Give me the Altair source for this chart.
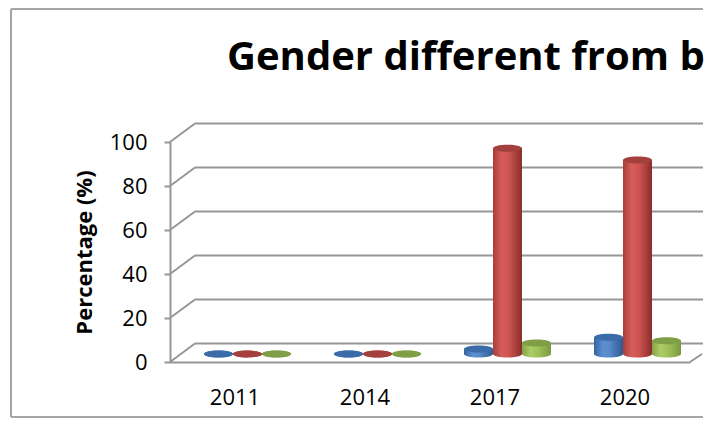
import altair as alt
import pandas as pd

years = ["2011", "2014", "2017", "2020"]
series_names = ["Series 1", "Series 2", "Series 3"]
blue_vals = [0, 0, 2.3, 7.6]
red_vals = [0, 0, 93.5, 88.2]
green_vals = [0, 0, 5.0, 6.0]
y_ticks = [0, 20, 40, 60, 80, 100]
title_text = ["Gender different from b"]

rows = []
for name, vals in zip(series_names, [blue_vals, red_vals, green_vals]):
    for yr, v in zip(years, vals):
        rows.append({"year": yr, "series": name, "value": v, "zero": 0})
df = pd.DataFrame(rows)
grid_df = pd.DataFrame({"v": y_ticks})
floor_df = pd.DataFrame({"v": [0]})
one_df = pd.DataFrame({"k": [0]})
title_df = pd.DataFrame({"t": title_text})

GRID = "#969696"
DX, DY = 12.5, -8          # 3-D depth shift of the bar row
BAR_W = 29                 # cylinder width
ELLIPSE = "M-1,0A1,0.24,0,1,1,1,0A1,0.24,0,1,1,-1,0Z"

y_axis = alt.Axis(
    values=y_ticks, title="Percentage (%)", titleFont="Open Sans", titleFontSize=22,
    titleFontWeight="bold", titleColor="black", titlePadding=13,
    labelFont="Open Sans", labelFontSize=22, labelColor="black", labelPadding=17,
    tickSize=6, tickColor=GRID, tickWidth=2, domainColor=GRID, domainWidth=2, grid=False,
)
y_scale = alt.Scale(domain=[0, 100], nice=False)
x_enc = alt.X(
    "year:N", sort=years, scale=alt.Scale(paddingInner=0.33, paddingOuter=0.165),
    axis=alt.Axis(title=None, labelAngle=0, ticks=False, tickSize=0, labelFont="Open Sans",
                  labelFontSize=22, labelColor="black", labelBaseline="middle", labelPadding=35,
                  domainColor=GRID, domainWidth=2, grid=False),
)

back_grid = alt.Chart(grid_df).mark_rule(color=GRID, strokeWidth=2, yOffset=-18.5).encode(
    y=alt.Y("v:Q", scale=y_scale, axis=y_axis), x=alt.value(25), x2=alt.value(533)
)
diag = alt.Chart(grid_df).mark_rule(color=GRID, strokeWidth=2, y2Offset=-18.5).encode(
    y=alt.Y("v:Q", scale=y_scale, axis=y_axis), y2="v", x=alt.value(0), x2=alt.value(25)
)
floor_diag = alt.Chart(floor_df).mark_rule(color=GRID, strokeWidth=2, y2Offset=-8).encode(
    y=alt.Y("v:Q", scale=y_scale, axis=y_axis), y2="v", x=alt.value(520), x2=alt.value(532)
)


def grad(stops):
    return alt.Gradient(
        gradient="linear", x1=0, x2=1, y1=0, y2=0,
        stops=[alt.GradientStop(color=c, offset=o) for o, c in stops],
    )


styles = {
    "Series 1": (grad([(0, "#3463A0"), (0.3, "#5B8FD2"), (0.5, "#5A8CCC"), (1, "#2E5A92")]), "#3B6BA8"),
    "Series 2": (grad([(0, "#A63E3B"), (0.3, "#D65D59"), (0.55, "#CD5450"), (1, "#8A2E2B")]), "#A3403D"),
    "Series 3": (grad([(0, "#84A448"), (0.3, "#AECD66"), (0.55, "#A0C159"), (1, "#7A9940")]), "#7F9E45"),
}

layers = [back_grid, diag, floor_diag]
for i, name in enumerate(series_names):
    g, top_c = styles[name]
    off = DX + (i - 1) * BAR_W
    b = alt.Chart(df).transform_filter(alt.datum.series == name)
    bottom = b.mark_point(shape=ELLIPSE, size=BAR_W * BAR_W, filled=True, opacity=1, strokeWidth=0,
                          color=g, xOffset=off, yOffset=DY).encode(
        x=x_enc, y=alt.Y("zero:Q", scale=y_scale, axis=y_axis))
    bar = b.mark_bar(color=g, width=BAR_W, xOffset=off, x2Offset=off, yOffset=DY, y2Offset=DY).encode(
        x=x_enc, y=alt.Y("value:Q", scale=y_scale, axis=y_axis))
    top = b.mark_point(shape=ELLIPSE, size=BAR_W * BAR_W, filled=True, opacity=1, strokeWidth=0,
                       color=top_c, xOffset=off, yOffset=DY).encode(
        x=x_enc, y=alt.Y("value:Q", scale=y_scale, axis=y_axis))
    layers += [bottom, bar, top]

title = alt.Chart(title_df).mark_text(
    font="Open Sans", fontSize=40, fontWeight="bold", color="black",
    align="left", baseline="alphabetic",
).encode(text="t:N", x=alt.value(57), y=alt.value(-72))

frame = alt.Chart(one_df).mark_rule(color="#a6a6a6", strokeWidth=2)
layers += [
    title,
    frame.encode(x=alt.value(-159), x2=alt.value(533), y=alt.value(-133)),
    frame.encode(x=alt.value(-159), y=alt.value(-133), y2=alt.value(275)),
    frame.encode(x=alt.value(-159), x2=alt.value(533), y=alt.value(275)),
]

chart = alt.layer(*layers).properties(
    width=520, height=220,
    autosize=alt.AutoSizeParams(type="none"),
    padding={"left": 162, "top": 134, "right": 15, "bottom": 56},
).configure_view(strokeWidth=0, stroke="transparent")

chart.save("out.html", embed_options={"renderer": "svg", "actions": False})
